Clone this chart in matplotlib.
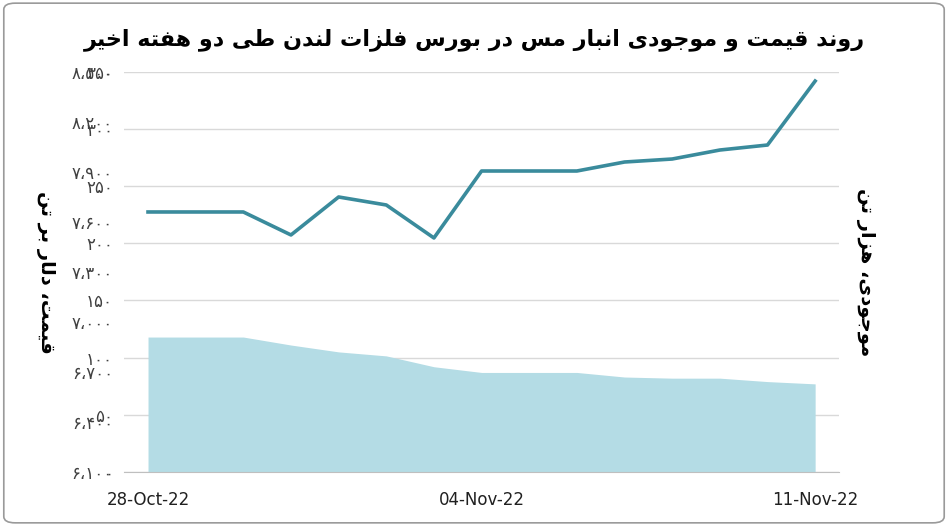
import matplotlib
matplotlib.use("Agg")
import matplotlib.pyplot as plt
from matplotlib.patches import FancyBboxPatch
import numpy as np

# daily values 28-Oct-22 .. 11-Nov-22
dates = ["28-Oct-22", "04-Nov-22", "11-Nov-22"]
price = [7660, 7660, 7660, 7522, 7750, 7702, 7504, 7906, 7906, 7906,
         7960, 7978, 8032, 8062, 8446]
stock = [118, 118, 118, 111, 105, 101.5, 92, 87, 87, 87, 83, 82, 82, 79, 77]

title = "روند قیمت و موجودی انبار مس در بورس فلزات لندن طی دو هفته اخیر"
ylabel_left = "قیمت، دلار بر تن"
ylabel_right = "موجودی، هزار تن"

# minimal Persian shaping: isolated, final, initial, medial
FORMS = {
    "ا": (0xFE8D, 0xFE8E, None, None), "ب": (0xFE8F, 0xFE90, 0xFE91, 0xFE92),
    "ت": (0xFE95, 0xFE96, 0xFE97, 0xFE98), "ج": (0xFE9D, 0xFE9E, 0xFE9F, 0xFEA0),
    "خ": (0xFEA5, 0xFEA6, 0xFEA7, 0xFEA8), "د": (0xFEA9, 0xFEAA, None, None),
    "ر": (0xFEAD, 0xFEAE, None, None), "ز": (0xFEAF, 0xFEB0, None, None),
    "س": (0xFEB1, 0xFEB2, 0xFEB3, 0xFEB4), "ط": (0xFEC1, 0xFEC2, 0xFEC3, 0xFEC4),
    "ف": (0xFED1, 0xFED2, 0xFED3, 0xFED4), "ق": (0xFED5, 0xFED6, 0xFED7, 0xFED8),
    "ل": (0xFEDD, 0xFEDE, 0xFEDF, 0xFEE0), "م": (0xFEE1, 0xFEE2, 0xFEE3, 0xFEE4),
    "ن": (0xFEE5, 0xFEE6, 0xFEE7, 0xFEE8), "ه": (0xFEE9, 0xFEEA, 0xFEEB, 0xFEEC),
    "و": (0xFEED, 0xFEEE, None, None), "ی": (0xFBFC, 0xFBFD, 0xFBFE, 0xFBFF),
}


def shape(s):
    out = []
    for i, c in enumerate(s):
        if c not in FORMS:
            out.append(c)
            continue
        f = FORMS[c]
        prev = s[i - 1] if i > 0 else ""
        nxt = s[i + 1] if i + 1 < len(s) else ""
        jp = prev in FORMS and FORMS[prev][2] is not None
        jn = nxt in FORMS and f[2] is not None
        if jp and jn:
            k = f[3]
        elif jp:
            k = f[1]
        elif jn:
            k = f[2]
        else:
            k = f[0]
        out.append(chr(k))
    return "".join(out)[::-1]


def fa_num(v, sep=True):
    s = f"{int(v):,}" if sep else str(int(v))
    return s.translate(str.maketrans("0123456789,", "۰۱۲۳۴۵۶۷۸۹،"))


plt.rcParams["font.family"] = ["DejaVu Sans"]
LINE = "#3a8b9c"
AREA = "#b4dce5"

fig = plt.figure(figsize=(9.48, 5.26), dpi=100)
fig.patches.append(FancyBboxPatch((0.004, 0.006), 0.992, 0.988,
                                  boxstyle="round,pad=0,rounding_size=0.012",
                                  transform=fig.transFigure, fill=False,
                                  edgecolor="#9a9a9a", linewidth=1.2))

ax2 = fig.add_axes([0.131, 0.103, 0.754, 0.760])
ax2.yaxis.tick_right()
ax2.yaxis.set_label_position("right")
ax = ax2.twinx()
ax.yaxis.tick_left()
ax.yaxis.set_label_position("left")
x = np.arange(len(price))

ax2.set_axisbelow(True)
ax2.grid(axis="y", color="#d9d9d9", linewidth=1, zorder=0)
ax2.fill_between(x, stock, 0, color=AREA, linewidth=0, zorder=2)
ax2.set_ylim(0, 350)
ax2.set_yticks(np.arange(0, 351, 50))
ax2.set_yticklabels([fa_num(v, False) for v in range(0, 351, 50)])
ax2.set_xlim(-0.5, 14.5)
ax2.set_xticks([0, 7, 14])
ax2.set_xticklabels(dates)

ax.plot(x, price, color=LINE, linewidth=2.6, zorder=5)
ax.set_ylim(6100, 8500)
ax.set_yticks(np.arange(6100, 8501, 300))
ax.set_yticklabels([fa_num(v) for v in range(6100, 8501, 300)])
ax.grid(False)

for a in (ax, ax2):
    for sp in ("top", "left", "right"):
        a.spines[sp].set_visible(False)
    a.tick_params(axis="y", length=0, labelsize=12, colors="#404040", pad=8)
ax2.spines["bottom"].set_color("#bfbfbf")
ax2.spines["bottom"].set_zorder(3)
ax.spines["bottom"].set_visible(False)
ax2.tick_params(axis="x", length=0, labelsize=12, colors="#202020", pad=14)

ax.set_ylabel(shape(ylabel_left), fontsize=14, fontweight="bold",
              rotation=270, labelpad=26)
ax2.set_ylabel(shape(ylabel_right), fontsize=14, fontweight="bold",
               rotation=270, labelpad=26)
fig.text(0.5, 0.925, shape(title), ha="center", va="center",
         fontsize=16, fontweight="bold")

fig.savefig("out.png", dpi=100)
